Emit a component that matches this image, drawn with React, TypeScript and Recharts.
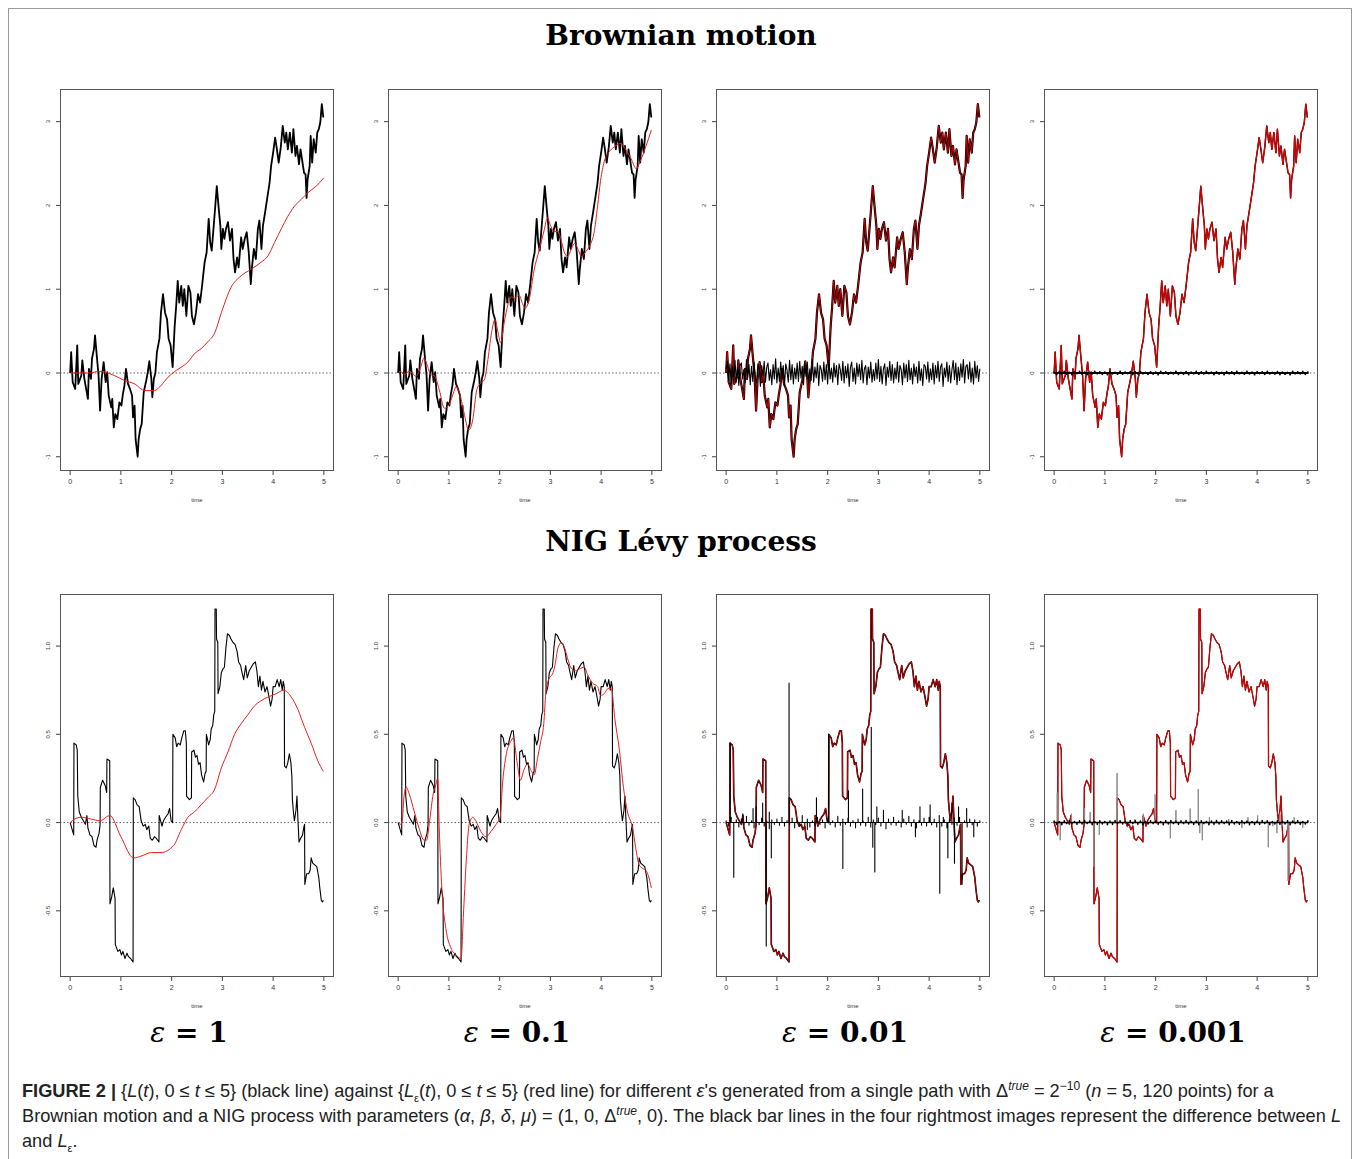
import { ComposedChart, Line, ReferenceLine, XAxis, YAxis } from 'recharts';

type Pair = [number, number];

const timeTicks = [0, 1, 2, 3, 4, 5];
const bmTicks = [-1, 0, 1, 2, 3];
const nigTicks = [-0.5, 0, 0.5, 1];
const epsLabels = ['1', '0.1', '0.01', '0.001'];

// Brownian path L(t)
const bmPath: Pair[] = [
  [0, 0], [0.02, 0.25], [0.05, -0.11], [0.1, -0.19], [0.14, 0.33], [0.16, -0.13], [0.22, -0.03], [0.24, 0.15],
  [0.28, -0.07], [0.35, -0.31], [0.37, 0.05], [0.41, -0.07], [0.43, 0.17], [0.47, 0.29], [0.49, 0.45], [0.53, 0.17],
  [0.56, -0.03], [0.59, -0.45], [0.62, -0.07], [0.66, 0.13], [0.7, -0.11], [0.73, 0.01], [0.76, -0.27], [0.81, -0.41],
  [0.83, -0.31], [0.86, -0.65], [0.89, -0.49], [0.93, -0.55], [0.97, -0.35], [1.01, -0.39], [1.04, -0.25], [1.07, -0.15],
  [1.1, 0.05], [1.14, -0.13], [1.18, -0.19], [1.22, -0.27], [1.24, -0.53], [1.27, -0.39], [1.29, -0.79], [1.33, -1.0],
  [1.35, -0.79], [1.38, -0.67], [1.41, -0.61], [1.45, -0.23], [1.5, -0.09], [1.53, 0.01], [1.56, 0.14], [1.6, -0.07],
  [1.62, -0.29], [1.65, -0.07], [1.68, 0], [1.71, 0.25], [1.76, 0.41], [1.79, 0.72], [1.83, 0.94], [1.87, 0.72],
  [1.91, 0.64], [1.94, 0.41], [1.98, 0.33], [2.02, 0.07], [2.06, 0.56], [2.09, 0.8], [2.12, 1.1], [2.15, 0.84],
  [2.19, 1.04], [2.22, 0.8], [2.25, 1.0], [2.29, 0.68], [2.33, 1.04], [2.37, 0.96], [2.4, 0.68], [2.44, 0.58],
  [2.48, 0.72], [2.52, 0.94], [2.56, 0.84], [2.6, 1.04], [2.65, 1.32], [2.69, 1.44], [2.73, 1.84], [2.76, 1.56],
  [2.79, 1.46], [2.83, 1.76], [2.86, 1.99], [2.89, 2.23], [2.93, 1.95], [2.96, 1.76], [2.98, 1.48], [3.01, 1.72],
  [3.04, 1.6], [3.07, 1.72], [3.11, 1.8], [3.15, 1.58], [3.19, 1.72], [3.22, 1.36], [3.25, 1.2], [3.29, 1.38],
  [3.32, 1.26], [3.37, 1.62], [3.4, 1.48], [3.44, 1.6], [3.48, 1.68], [3.52, 1.44], [3.56, 1.06], [3.58, 1.24],
  [3.62, 1.48], [3.66, 1.36], [3.7, 1.72], [3.73, 1.82], [3.77, 1.48], [3.8, 1.76], [3.84, 1.91], [3.88, 2.07],
  [3.93, 2.27], [3.96, 2.47], [4.0, 2.63], [4.04, 2.81], [4.07, 2.69], [4.11, 2.51], [4.15, 2.69], [4.19, 2.95],
  [4.23, 2.75], [4.26, 2.87], [4.29, 2.67], [4.33, 2.87], [4.37, 2.63], [4.4, 2.91], [4.44, 2.59], [4.47, 2.71],
  [4.51, 2.49], [4.54, 2.67], [4.57, 2.55], [4.61, 2.39], [4.64, 2.37], [4.66, 2.09], [4.68, 2.31], [4.72, 2.47],
  [4.74, 2.83], [4.77, 2.51], [4.8, 2.79], [4.84, 2.63], [4.87, 2.87], [4.9, 2.91], [4.93, 2.99], [4.96, 3.21],
  [4.99, 3.05],
];

// L_eps for eps = 1 (Brownian)
const bmEps1: Pair[] = [
  [0, 0], [0.41, 0], [0.55, 0.02], [0.68, 0.01], [0.87, -0.03], [1.07, -0.09], [1.27, -0.13], [1.47, -0.21],
  [1.66, -0.21], [1.79, -0.15], [1.93, -0.05], [2.09, 0.03], [2.19, 0.07], [2.32, 0.13], [2.45, 0.23], [2.58, 0.29],
  [2.71, 0.37], [2.85, 0.48], [2.98, 0.72], [3.17, 1.02], [3.37, 1.16], [3.57, 1.24], [3.76, 1.32], [3.9, 1.4],
  [4.03, 1.56], [4.16, 1.72], [4.29, 1.87], [4.42, 1.99], [4.55, 2.07], [4.68, 2.15], [4.85, 2.23], [5.0, 2.33],
];

// L_eps for eps = 0.1 (Brownian)
const bmEps01: Pair[] = [
  [0, 0], [0.05, 0.02], [0.12, -0.02], [0.22, 0.02], [0.35, -0.04], [0.45, 0.08], [0.51, 0.18], [0.58, 0.08],
  [0.64, -0.02], [0.71, -0.03], [0.81, -0.2], [0.91, -0.42], [1.0, -0.38], [1.1, -0.22], [1.14, -0.16], [1.2, -0.22],
  [1.3, -0.48], [1.39, -0.68], [1.47, -0.56], [1.55, -0.2], [1.63, -0.12], [1.7, -0.08], [1.76, 0.12], [1.84, 0.48],
  [1.91, 0.64], [1.97, 0.48], [2.02, 0.36], [2.09, 0.6], [2.17, 0.83], [2.23, 0.91], [2.3, 0.89], [2.38, 0.93],
  [2.45, 0.83], [2.5, 0.77], [2.58, 0.87], [2.68, 1.23], [2.78, 1.47], [2.88, 1.71], [2.94, 1.85], [3.01, 1.75],
  [3.07, 1.69], [3.15, 1.69], [3.21, 1.59], [3.27, 1.45], [3.34, 1.39], [3.42, 1.49], [3.48, 1.55], [3.55, 1.47],
  [3.61, 1.39], [3.7, 1.45], [3.8, 1.55], [3.86, 1.67], [3.93, 1.99], [3.99, 2.3], [4.06, 2.52], [4.16, 2.64],
  [4.26, 2.7], [4.39, 2.74], [4.49, 2.66], [4.59, 2.56], [4.69, 2.44], [4.78, 2.54], [4.88, 2.7], [4.99, 2.9],
];

// L - L_eps, eps = 0.01 (Brownian), one value every 0.025
const bmDiff01 = [
  0.05, 0.14, -0.09, 0.11, -0.13, 0.07, -0.04, 0.15, -0.11, 0.06,
  -0.15, 0.09, 0.12, -0.07, 0.04, -0.12, 0.16, -0.05, 0.1, -0.14,
  0.08, -0.1, 0.13, -0.06, -0.12, 0.11, 0.05, -0.16, 0.09, -0.03,
  0.14, -0.11, 0.07, 0.12, -0.09, 0.04, -0.14, 0.1, -0.07, 0.17,
  -0.12, 0.06, -0.1, 0.13, -0.05, 0.09, -0.15, 0.11, 0.03, -0.11,
  0.15, -0.08, 0.1, -0.13, 0.06, -0.07, 0.12, -0.1, 0.14, -0.06,
  0.08, -0.14, 0.11, -0.04, 0.13, -0.12, 0.05, -0.09, 0.16, -0.11,
  0.07, -0.06, 0.12, -0.15, 0.09, 0.04, -0.1, 0.13, -0.08, 0.1,
  -0.13, 0.15, -0.07, 0.06, -0.11, 0.12, -0.05, 0.09, -0.14, 0.11,
  0.04, -0.09, 0.14, -0.12, 0.08, -0.06, 0.11, -0.16, 0.07, 0.13,
  -0.1, 0.06, -0.13, 0.12, -0.04, 0.1, -0.08, 0.15, -0.12, 0.05,
  0.09, -0.14, 0.07, -0.06, 0.13, -0.11, 0.04, -0.09, 0.12, -0.07,
  0.16, -0.1, 0.08, -0.13, 0.05, 0.11, -0.15, 0.07, -0.05, 0.14,
  -0.09, 0.1, -0.12, 0.06, -0.07, 0.13, -0.11, 0.09, 0.04, -0.14,
  0.12, -0.06, 0.1, -0.1, 0.15, -0.08, 0.06, -0.13, 0.11, -0.04,
  0.07, -0.12, 0.14, -0.09, 0.05, -0.15, 0.1, 0.08, -0.07, 0.13,
  -0.11, 0.05, -0.08, 0.12, -0.13, 0.09, -0.06, 0.14, -0.1, 0.07,
  0.11, -0.16, 0.06, -0.05, 0.13, -0.1, 0.09, -0.12, 0.04, 0.15,
  -0.08, 0.12, -0.14, 0.07, -0.09, 0.11, -0.05, 0.16, -0.12, 0.08,
  0.1, -0.07, 0.13, -0.11, 0.06, -0.13, 0.14, -0.06, 0.09, -0.1,
  0.05,
];

// L - L_eps, eps = 0.001 (Brownian), one value every 0.05
const bmDiff001 = [
  0.01, -0.02, 0.015, -0.01, 0.02, -0.015, 0.008, -0.02, 0.012, -0.006,
  0.018, -0.012, 0.01, -0.018, 0.006, -0.01, 0.02, -0.008, 0.014, -0.016,
  0.01, -0.02, 0.016, -0.01, 0.008, -0.014, 0.02, -0.012, 0.01, -0.006,
  0.015, -0.018, 0.012, -0.01, 0.02, -0.008, 0.006, -0.016, 0.014, -0.012,
  0.01, -0.02, 0.018, -0.006, 0.012, -0.014, 0.008, -0.01, 0.02, -0.016,
  0.006, -0.012, 0.015, -0.02, 0.01, -0.008, 0.018, -0.014, 0.012, -0.01,
  0.02, -0.006, 0.01, -0.018, 0.014, -0.012, 0.008, -0.02, 0.016, -0.01,
  0.012, -0.015, 0.02, -0.008, 0.006, -0.014, 0.018, -0.01, 0.01, -0.02,
  0.014, -0.006, 0.012, -0.016, 0.02, -0.01, 0.008, -0.012, 0.015, -0.018,
  0.01, -0.014, 0.006, -0.02, 0.018, -0.008, 0.012, -0.01, 0.02, -0.016,
  0.01,
];

// NIG Levy path L(t)
const nigPath: Pair[] = [
  [0, 0], [0.03, -0.03], [0.07, -0.07], [0.075, 0.45], [0.12, 0.44], [0.14, 0.41], [0.15, 0.15], [0.18, 0.06],
  [0.22, 0.03], [0.26, 0.01], [0.3, -0.01], [0.33, 0.04], [0.35, -0.03], [0.39, -0.07], [0.43, -0.08], [0.47, -0.13],
  [0.51, -0.14], [0.53, -0.1], [0.57, -0.06], [0.59, -0.01], [0.595, 0.2], [0.64, 0.24], [0.69, 0.21], [0.72, 0.17],
  [0.725, 0.36], [0.78, 0.35], [0.785, -0.46], [0.82, -0.42], [0.85, -0.37], [0.885, -0.43], [0.89, -0.69], [0.94, -0.73],
  [0.98, -0.72], [1.01, -0.75], [1.04, -0.73], [1.08, -0.77], [1.12, -0.74], [1.15, -0.76], [1.19, -0.77], [1.24, -0.79],
  [1.245, 0.14], [1.28, 0.13], [1.32, 0.1], [1.36, 0.09], [1.4, 0.01], [1.44, -0.02], [1.48, -0.01], [1.51, -0.04],
  [1.55, -0.02], [1.58, -0.09], [1.62, -0.1], [1.66, -0.08], [1.7, -0.09], [1.75, -0.11], [1.755, 0.04], [1.81, -0.02],
  [1.84, 0.01], [1.88, 0.03], [1.93, 0.05], [1.96, 0.08], [1.99, 0.01], [2.02, 0.0], [2.025, 0.5], [2.07, 0.48],
  [2.1, 0.43], [2.13, 0.45], [2.17, 0.44], [2.2, 0.48], [2.24, 0.52], [2.27, 0.52], [2.29, 0.45], [2.295, 0.15],
  [2.35, 0.13], [2.39, 0.14], [2.395, 0.4], [2.44, 0.41], [2.47, 0.37], [2.5, 0.38], [2.53, 0.33], [2.56, 0.34],
  [2.59, 0.27], [2.63, 0.23], [2.66, 0.28], [2.68, 0.29], [2.685, 0.5], [2.73, 0.44], [2.76, 0.47], [2.78, 0.53],
  [2.81, 0.55], [2.83, 0.61], [2.85, 0.63], [2.855, 1.21], [2.88, 1.21], [2.885, 1.04], [2.91, 1.02], [2.915, 0.73],
  [2.95, 0.77], [2.98, 0.85], [3.01, 0.87], [3.04, 0.88], [3.07, 0.99], [3.1, 1.07], [3.14, 1.06], [3.17, 1.04],
  [3.21, 1.02], [3.25, 1.01], [3.29, 0.97], [3.32, 0.91], [3.36, 0.89], [3.38, 0.86], [3.42, 0.81], [3.46, 0.89],
  [3.49, 0.82], [3.53, 0.86], [3.57, 0.88], [3.61, 0.9], [3.65, 0.91], [3.68, 0.86], [3.71, 0.77], [3.74, 0.83],
  [3.77, 0.75], [3.8, 0.8], [3.84, 0.74], [3.88, 0.77], [3.92, 0.71], [3.95, 0.66], [3.98, 0.7], [4.0, 0.77],
  [4.04, 0.77], [4.08, 0.81], [4.12, 0.77], [4.15, 0.81], [4.18, 0.75], [4.2, 0.8], [4.22, 0.77], [4.225, 0.32],
  [4.26, 0.31], [4.29, 0.34], [4.32, 0.39], [4.35, 0.34], [4.37, 0.26], [4.38, 0.13], [4.4, 0.06], [4.42, 0.01],
  [4.45, 0.07], [4.47, 0.15], [4.49, 0.01], [4.51, -0.11], [4.54, -0.09], [4.58, -0.07], [4.61, -0.02], [4.62, -0.01],
  [4.625, -0.35], [4.66, -0.29], [4.7, -0.29], [4.73, -0.27], [4.75, -0.2], [4.78, -0.23], [4.82, -0.24], [4.86, -0.25],
  [4.88, -0.28], [4.9, -0.31], [4.92, -0.37], [4.95, -0.44], [4.97, -0.45], [4.99, -0.44],
];

// L_eps for eps = 1 (NIG)
const nigEps1: Pair[] = [
  [0, 0], [0.09, 0.02], [0.22, 0.03], [0.41, 0.02], [0.59, 0.01], [0.78, 0.04], [1.0, -0.08], [1.25, -0.2],
  [1.4, -0.19], [1.6, -0.17], [1.79, -0.17], [2.04, -0.13], [2.19, -0.04], [2.32, 0.03], [2.45, 0.06], [2.58, 0.1],
  [2.71, 0.14], [2.85, 0.19], [2.98, 0.31], [3.11, 0.4], [3.24, 0.5], [3.37, 0.56], [3.5, 0.61], [3.63, 0.66],
  [3.76, 0.69], [3.89, 0.71], [4.06, 0.73], [4.21, 0.75], [4.36, 0.71], [4.49, 0.64], [4.62, 0.54], [4.75, 0.45],
  [4.88, 0.35], [4.99, 0.29],
];

// L_eps for eps = 0.1 (NIG)
const nigEps01: Pair[] = [
  [0, 0], [0.05, -0.01], [0.08, 0.01], [0.12, 0.16], [0.16, 0.2], [0.22, 0.16], [0.32, 0.06], [0.41, -0.03],
  [0.51, -0.1], [0.56, -0.1], [0.62, 0.01], [0.69, 0.16], [0.74, 0.21], [0.78, 0.25], [0.81, -0.03], [0.86, -0.37],
  [0.94, -0.6], [1.04, -0.71], [1.14, -0.75], [1.24, -0.77], [1.29, -0.5], [1.35, -0.18], [1.4, -0.01], [1.47, 0.03],
  [1.53, 0.01], [1.63, -0.05], [1.73, -0.08], [1.83, -0.05], [1.93, -0.01], [2.01, 0.03], [2.06, 0.23], [2.12, 0.37],
  [2.22, 0.46], [2.27, 0.48], [2.34, 0.35], [2.41, 0.24], [2.48, 0.3], [2.55, 0.33], [2.63, 0.29], [2.68, 0.27],
  [2.75, 0.37], [2.81, 0.46], [2.87, 0.56], [2.91, 0.73], [2.98, 0.82], [3.04, 0.84], [3.09, 0.89], [3.15, 0.99],
  [3.22, 1.02], [3.28, 0.99], [3.35, 0.92], [3.42, 0.87], [3.5, 0.86], [3.57, 0.87], [3.67, 0.88], [3.73, 0.84],
  [3.83, 0.79], [3.93, 0.77], [3.99, 0.72], [4.06, 0.73], [4.14, 0.76], [4.2, 0.76], [4.27, 0.59], [4.36, 0.41],
  [4.44, 0.2], [4.52, 0.06], [4.62, -0.03], [4.68, -0.14], [4.75, -0.24], [4.82, -0.26], [4.88, -0.27], [4.93, -0.3],
  [4.99, -0.37],
];

// L - L_eps, eps = 0.01 (NIG): small differences every 0.05 plus the large spikes
const nigDiff01Small = [
  0.01, -0.02, 0.03, -0.01, 0.015, -0.025, 0.02, -0.01, 0.035, -0.015,
  0.01, -0.03, 0.02, -0.012, 0.025, -0.02, 0.01, -0.035, 0.015, -0.01,
  0.02, -0.015, 0.03, -0.02, 0.012, -0.01, 0.025, -0.03, 0.01, -0.02,
  0.04, -0.015, 0.02, -0.025, 0.01, -0.02, 0.03, -0.01, 0.015, -0.03,
  0.02, -0.012, 0.01, -0.025, 0.035, -0.015, 0.02, -0.01, 0.025, -0.02,
  0.012, -0.03, 0.02, -0.015, 0.01, -0.02, 0.03, -0.025, 0.015, -0.01,
  0.025, -0.02, 0.01, -0.035, 0.02, -0.012, 0.03, -0.015, 0.01, -0.025,
  0.02, -0.01, 0.035, -0.02, 0.015, -0.03, 0.01, -0.015, 0.025, -0.02,
  0.03, -0.012, 0.02, -0.025, 0.04, -0.02, 0.015, -0.03, 0.02, -0.01,
  0.025, -0.015, 0.03, -0.02, 0.01, -0.025, 0.02, -0.012, 0.015, -0.02,
  0.01,
];
const nigDiff01Spikes: Pair[] = [
  [0.08, 0.45], [0.15, -0.31], [0.33, 0.05], [0.53, 0.08], [0.59, 0.09], [0.72, 0.11], [0.79, -0.7], [0.85, 0.06],
  [0.89, -0.2], [1.24, 0.79], [1.6, -0.04], [1.78, 0.14], [2.02, 0.5], [2.3, -0.26], [2.41, 0.18], [2.69, 0.19],
  [2.86, 0.54], [2.89, -0.14], [2.93, -0.28], [2.97, 0.09], [3.1, 0.07], [3.47, 0.07], [3.73, -0.08], [3.82, 0.09],
  [4.02, 0.1], [4.21, -0.4], [4.28, 0.03], [4.37, -0.2], [4.45, 0.11], [4.5, -0.23], [4.58, 0.09], [4.65, -0.35],
  [4.74, 0.08], [4.88, -0.08],
];

// L - L_eps, eps = 0.001 (NIG)
const nigDiff001Small = [
  0.008, -0.01, 0.006, -0.012, 0.01, -0.006, 0.012, -0.008, 0.006, -0.01,
  0.01, -0.008, 0.012, -0.006, 0.008, -0.012, 0.006, -0.01, 0.01, -0.008,
  0.006, -0.012, 0.008, -0.01, 0.012, -0.006, 0.01, -0.008, 0.006, -0.012,
  0.012, -0.006, 0.01, -0.01, 0.008, -0.012, 0.006, -0.008, 0.01, -0.006,
  0.008, -0.01, 0.006, -0.012, 0.01, -0.008, 0.012, -0.006, 0.008, -0.01,
  0.01, -0.006, 0.012, -0.008, 0.006, -0.01, 0.008, -0.012, 0.01, -0.006,
  0.006, -0.012, 0.008, -0.01, 0.012, -0.008, 0.01, -0.006, 0.008, -0.012,
  0.012, -0.008, 0.006, -0.01, 0.01, -0.006, 0.008, -0.012, 0.006, -0.01,
  0.008, -0.01, 0.012, -0.006, 0.01, -0.012, 0.006, -0.008, 0.01, -0.01,
  0.006, -0.008, 0.01, -0.012, 0.008, -0.006, 0.012, -0.01, 0.006, -0.008,
  0.01,
];
const nigDiff001Spikes: Pair[] = [
  [0.06, 0.17], [0.12, -0.1], [0.34, 0.05], [0.6, 0.08], [0.71, 0.06], [0.78, -0.25], [0.89, -0.07], [1.24, 0.28],
  [1.59, 0.02], [1.76, 0.05], [1.99, 0.16], [2.29, -0.09], [2.4, 0.07], [2.68, 0.08], [2.84, 0.19], [2.87, -0.06],
  [2.92, -0.1], [3.06, 0.03], [3.44, 0.02], [3.7, -0.03], [3.82, 0.03], [4.01, 0.04], [4.22, -0.14], [4.31, -0.02],
  [4.39, -0.06], [4.45, 0.05], [4.5, -0.02], [4.61, -0.33], [4.73, 0.03], [4.9, -0.03],
];

type Row = { t: number; v: number };

const toRows = (pairs: Pair[]): Row[] => pairs.map(([t, v]) => ({ t, v }));
const gridPairs = (vals: number[], step: number): Pair[] => vals.map((v, i) => [+(i * step).toFixed(3), v]);
// R type="h": each value drawn as a vertical stroke from 0
const hRows = (pairs: Pair[]): Row[] =>
  [...pairs].sort((a, b) => a[0] - b[0]).flatMap(([t, d]) => [{ t, v: 0 }, { t, v: d }, { t, v: 0 }]);

const BOX_LEFTS = [60, 388, 716, 1044];
const BOX_W = 274;
const RED = '#ee1c1c';
const DARK_RED = '#d40000';

type LineSpec = { rows: Row[]; color: string; width: number; smooth?: boolean };

type PanelProps = {
  left: number;
  top: number;
  h: number;
  yDomain: [number, number];
  yTicks: number[];
  yFmt: (v: number) => string;
  lines: LineSpec[];
};

function Panel({ left, top, h, yDomain, yTicks, yFmt, lines }: PanelProps) {
  return (
    <div style={{ position: 'absolute', left: left - 30, top }}>
      <ComposedChart width={BOX_W + 30} height={h + 40} data={lines[0].rows} margin={{ top: 0, right: 0, bottom: 0, left: 0 }}>
        <XAxis
          type="number"
          dataKey="t"
          domain={[-0.2, 5.2]}
          ticks={timeTicks}
          interval={0}
          allowDataOverflow
          axisLine={false}
          tickLine={{ stroke: '#444' }}
          tickSize={4}
          tickMargin={4}
          height={40}
          tick={{ fontSize: 7, fill: '#333', fontFamily: 'Liberation Sans' }}
          label={{ value: 'time', position: 'insideBottom', offset: 9, fontSize: 6, fill: '#333', fontFamily: 'Liberation Sans' }}
        />
        <YAxis
          type="number"
          domain={yDomain}
          ticks={yTicks}
          interval={0}
          allowDataOverflow
          axisLine={false}
          tickLine={{ stroke: '#444' }}
          tickSize={4}
          tickMargin={6}
          width={30}
          tick={(p: any) => (
            <text
              x={p.x}
              y={p.y}
              transform={`rotate(-90 ${p.x} ${p.y})`}
              textAnchor="middle"
              fontSize={6}
              fill="#333"
              fontFamily="Liberation Sans"
            >
              {yFmt(p.payload.value)}
            </text>
          )}
        />
        <ReferenceLine y={0} stroke="#666" strokeDasharray="1.5 2" strokeWidth={1} />
        {lines.map((l, i) => (
          <Line
            key={i}
            data={l.rows}
            dataKey="v"
            type={l.smooth ? 'monotone' : 'linear'}
            stroke={l.color}
            strokeWidth={l.width}
            strokeLinejoin="round"
            dot={false}
            activeDot={false}
            isAnimationActive={false}
          />
        ))}
      </ComposedChart>
      <div
        style={{
          position: 'absolute',
          left: 30,
          top: 0,
          width: BOX_W,
          height: h,
          border: '1px solid #555',
          boxSizing: 'border-box',
          pointerEvents: 'none',
        }}
      />
    </div>
  );
}

export default function App() {
  const bm = toRows(bmPath);
  const nig = toRows(nigPath);
  // dense band: consecutive differences joined, as the 5120 bar lines merge in the original
  const bmD01 = toRows(gridPairs(bmDiff01, 0.025));
  const bmD001 = hRows(gridPairs(bmDiff001, 0.05));
  const nigD01 = hRows([...gridPairs(nigDiff01Small, 0.05), ...nigDiff01Spikes]);
  const nigD001Small = hRows(gridPairs(nigDiff001Small, 0.05));
  const nigD001Spikes = hRows(nigDiff001Spikes);

  const bmFmt = (v: number) => String(v);
  const nigFmt = (v: number) => v.toFixed(1);
  const bmRow = { top: 89, h: 382, yDomain: [-1.17, 3.39] as [number, number], yTicks: bmTicks, yFmt: bmFmt };
  const nigRow = { top: 594, h: 383, yDomain: [-0.875, 1.295] as [number, number], yTicks: nigTicks, yFmt: nigFmt };

  const serif = '"DejaVu Serif", serif';
  const supStyle = { lineHeight: 0, fontSize: 12 };
  const subStyle = { lineHeight: 0, fontSize: 11 };

  return (
    <div style={{ position: 'absolute', left: 0, top: 0, width: 1360, height: 1159, background: '#fff', overflow: 'hidden' }}>
      <div
        style={{
          position: 'absolute',
          left: 8,
          top: 8,
          width: 1344,
          height: 1170,
          border: '1px solid #9a9a9a',
          boxSizing: 'border-box',
        }}
      />
      <div style={{ position: 'absolute', left: 0, top: 18, width: 1362, textAlign: 'center', fontFamily: serif, fontWeight: 'bold', fontSize: 28, lineHeight: '36px' }}>
        Brownian motion
      </div>
      <div style={{ position: 'absolute', left: 0, top: 524, width: 1362, textAlign: 'center', fontFamily: serif, fontWeight: 'bold', fontSize: 28, lineHeight: '36px' }}>
        NIG Lévy process
      </div>

      <Panel left={BOX_LEFTS[0]} {...bmRow} lines={[{ rows: bm, color: '#000', width: 1.8 }, { rows: toRows(bmEps1), color: RED, width: 1, smooth: true }]} />
      <Panel left={BOX_LEFTS[1]} {...bmRow} lines={[{ rows: bm, color: '#000', width: 1.8 }, { rows: toRows(bmEps01), color: RED, width: 1, smooth: true }]} />
      <Panel
        left={BOX_LEFTS[2]}
        {...bmRow}
        lines={[
          { rows: bm, color: '#000', width: 2.2 },
          { rows: bm, color: DARK_RED, width: 0.9 },
          { rows: bmD01, color: '#000', width: 1.1 },
        ]}
      />
      <Panel
        left={BOX_LEFTS[3]}
        {...bmRow}
        lines={[
          { rows: bm, color: '#000', width: 1.4 },
          { rows: bm, color: DARK_RED, width: 1.3 },
          { rows: bmD001, color: '#000', width: 1.8 },
        ]}
      />

      <Panel left={BOX_LEFTS[0]} {...nigRow} lines={[{ rows: nig, color: '#000', width: 1.1 }, { rows: toRows(nigEps1), color: RED, width: 1, smooth: true }]} />
      <Panel left={BOX_LEFTS[1]} {...nigRow} lines={[{ rows: nig, color: '#000', width: 1.1 }, { rows: toRows(nigEps01), color: RED, width: 1, smooth: true }]} />
      <Panel
        left={BOX_LEFTS[2]}
        {...nigRow}
        lines={[
          { rows: nig, color: '#000', width: 1.6 },
          { rows: nig, color: DARK_RED, width: 0.9 },
          { rows: nigD01, color: '#000', width: 1.1 },
        ]}
      />
      <Panel
        left={BOX_LEFTS[3]}
        {...nigRow}
        lines={[
          { rows: nig, color: '#000', width: 1.1 },
          { rows: nig, color: DARK_RED, width: 1.2 },
          { rows: nigD001Spikes, color: '#8a8a8a', width: 1 },
          { rows: nigD001Small, color: '#000', width: 1.6 },
        ]}
      />

      {epsLabels.map((e, i) => (
        <div
          key={e}
          style={{
            position: 'absolute',
            left: BOX_LEFTS[i] + BOX_W / 2 - 8 - 150,
            top: 1016,
            width: 300,
            textAlign: 'center',
            fontFamily: serif,
            fontWeight: 'bold',
            fontSize: 28,
            lineHeight: '34px',
          }}
        >
          <i style={{ fontWeight: 'normal' }}>ε</i> = {e}
        </div>
      ))}

      <div style={{ position: 'absolute', left: 22, top: 1079, fontFamily: '"Liberation Sans", Arial, sans-serif', fontSize: 18.2, lineHeight: '25px', color: '#222', whiteSpace: 'nowrap' }}>
        <div>
          <b>FIGURE 2 |</b> {'{'}<i>L</i>(<i>t</i>), 0 ≤ <i>t</i> ≤ 5{'}'} (black line) against {'{'}<i>L</i>
          <sub style={subStyle}>ε</sub>(<i>t</i>), 0 ≤ <i>t</i> ≤ 5{'}'} (red line) for different <i>ε</i>'s generated from a single path with Δ
          <sup style={supStyle}><i>true</i></sup> = 2<sup style={supStyle}>−10</sup> (<i>n</i> = 5, 120 points) for a
        </div>
        <div>
          Brownian motion and a NIG process with parameters (<i>α</i>, <i>β</i>, <i>δ</i>, <i>μ</i>) = (1, 0, Δ
          <sup style={supStyle}><i>true</i></sup>, 0). The black bar lines in the four rightmost images represent the difference between <i>L</i>
        </div>
        <div>
          and <i>L</i>
          <sub style={subStyle}>ε</sub>.
        </div>
      </div>
    </div>
  );
}
